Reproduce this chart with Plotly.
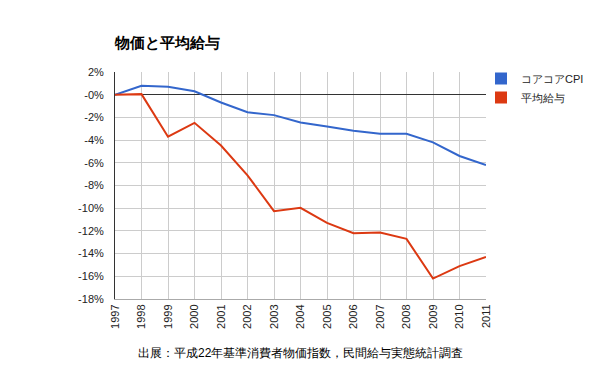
import plotly.graph_objects as go

years = list(range(1997, 2012))
core_cpi = [0.0, 0.78, 0.69, 0.3, -0.69, -1.55, -1.8, -2.45, -2.8, -3.17, -3.45, -3.45, -4.2, -5.4, -6.2]
avg_wage = [0.0, 0.05, -3.7, -2.48, -4.48, -7.1, -10.26, -9.97, -11.3, -12.2, -12.15, -12.7, -16.2, -15.1, -14.3]
series_names = ["コアコアCPI", "平均給与"]
colors = ["#3366cc", "#dc3912"]
ytick_vals = [2, 0, -2, -4, -6, -8, -10, -12, -14, -16, -18]
ytick_text = ["2%", "-0%", "-2%", "-4%", "-6%", "-8%", "-10%", "-12%", "-14%", "-16%", "-18%"]

font = "Liberation Sans, Arial, sans-serif"
L, R, T, B = 115, 486, 72, 299
W, H = 600, 371
fig = go.Figure()
for name, vals, c in zip(series_names, [core_cpi, avg_wage], colors):
    fig.add_trace(go.Scatter(x=years, y=vals, mode="lines", line=dict(color=c, width=2),
                             name=name, showlegend=False, hoverinfo="x+y"))
for name, c in zip(series_names, colors):
    fig.add_trace(go.Scatter(x=[None], y=[None], mode="markers", name=name,
                             marker=dict(symbol="square", size=12, color=c)))

fig.update_layout(
    width=W, height=H,
    margin=dict(l=L, r=W - R, t=T, b=H - B, autoexpand=False),
    paper_bgcolor="white", plot_bgcolor="white",
    font=dict(family=font, size=11, color="#222"),
    title=dict(text="<b>物価と平均給与</b>", x=L / W, xanchor="left", y=1 - 43 / H, yanchor="middle",
               font=dict(size=15, color="#000")),
    showlegend=True,
    legend=dict(x=(481 - L) / (R - L), xanchor="left", y=(B - 64) / (B - T), yanchor="top",
                font=dict(size=11, color="#222"),
                bgcolor="rgba(0,0,0,0)", tracegroupgap=0, itemwidth=30),
    xaxis=dict(range=[1997, 2011], tickmode="array", tickvals=years, ticktext=[str(y) for y in years],
               tickangle=-90, showgrid=True, gridcolor="#cccccc", gridwidth=1, zeroline=False,
               showline=True, linecolor="#aaaaaa", linewidth=1, ticks="", automargin=False,
               tickfont=dict(size=11, color="#222")),
    yaxis=dict(range=[-18, 2], tickmode="array", tickvals=ytick_vals, ticktext=ytick_text,
               showgrid=True, gridcolor="#cccccc", gridwidth=1, zeroline=True, zerolinecolor="#333333",
               zerolinewidth=1, showline=True, linecolor="#333333", linewidth=1, ticks="", automargin=False,
               tickfont=dict(size=11, color="#222"), ticklabelstandoff=8),
    annotations=[dict(text="出展：平成22年基準消費者物価指数，民間給与実態統計調査", x=(300 - L) / (R - L),
                      xref="paper", y=(B - 353) / (B - T), yref="paper", xanchor="center", yanchor="middle",
                      showarrow=False, font=dict(size=12, color="#000"))],
)
fig.write_html("out.html", config={"displayModeBar": False},
               post_script="document.body.style.margin='0';")
